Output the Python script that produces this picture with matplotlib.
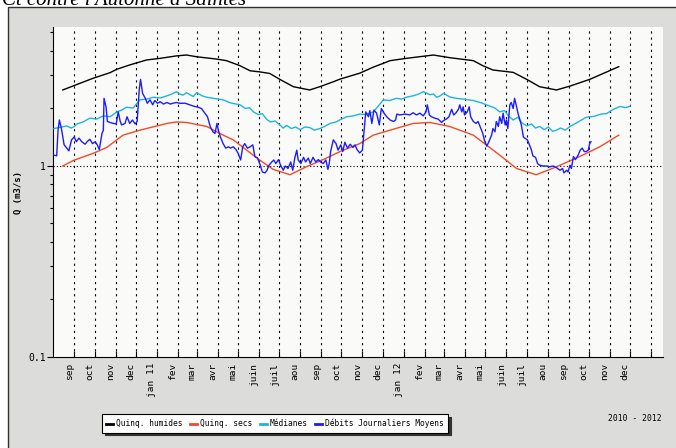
import numpy as np
import matplotlib
matplotlib.use('Agg')
import matplotlib.pyplot as plt
from matplotlib.lines import Line2D
from matplotlib.patches import Rectangle
from matplotlib.ticker import FixedLocator, FixedFormatter, NullFormatter
import matplotlib.transforms as mtransforms

plt.rcParams['font.family'] = ['DejaVu Sans Mono']

# ---------------- data ----------------
START = np.datetime64('2010-08-01')
END = np.datetime64('2013-01-18')

month_labels = ['sep', 'oct', 'nov', 'dec', 'jan 11', 'fev', 'mar', 'avr', 'mai', 'juin', 'juil', 'aou',
                'sep', 'oct', 'nov', 'dec', 'jan 12', 'fev', 'mar', 'avr', 'mai', 'juin', 'juil', 'aou',
                'sep', 'oct', 'nov', 'dec', '']
month_starts = np.arange(np.datetime64('2010-09'), np.datetime64('2013-02'),
                         np.timedelta64(1, 'M')).astype('datetime64[D]')

# days since 2010-08-01
humides_days = [14, 30, 59, 84, 94, 113, 138, 158, 182, 197, 212, 241, 256, 276, 291, 305, 320, 335, 355, 379,
                394, 414, 424, 453, 473, 498, 522, 562, 586, 621, 635, 650, 680, 700, 719, 744, 764, 793, 836]
humides_q = [2.50, 2.63, 2.88, 3.08, 3.21, 3.38, 3.59, 3.66, 3.77, 3.81, 3.73, 3.63, 3.56, 3.35, 3.15, 3.11, 3.05,
             2.84, 2.60, 2.50, 2.60, 2.76, 2.85, 3.06, 3.29, 3.56, 3.66, 3.81, 3.69, 3.56, 3.35, 3.18, 3.09, 2.84,
             2.60, 2.50, 2.62, 2.84, 3.31]

secs_days = [14, 30, 59, 79, 103, 128, 168, 182, 197, 227, 246, 266, 286, 305, 325, 350, 374, 399, 424, 453,
             473, 498, 532, 557, 586, 621, 640, 660, 685, 714, 744, 778, 808, 836]
secs_q = [1.00, 1.07, 1.165, 1.25, 1.45, 1.54, 1.67, 1.70, 1.69, 1.61, 1.48, 1.37, 1.21, 1.075, 0.96, 0.90, 0.99,
          1.08, 1.19, 1.31, 1.45, 1.54, 1.67, 1.69, 1.61, 1.45, 1.29, 1.14, 0.97, 0.90, 0.99, 1.12, 1.26, 1.45]

med_days = [1, 12, 20, 26, 30, 35, 44, 54, 64, 74,
            84, 94, 101, 108, 118, 128, 138, 148, 158, 168,
            175, 182, 187, 192, 197, 202, 207, 212, 220, 227,
            240, 251, 262, 276, 284, 290, 296, 303, 309, 315,
            321, 328, 335, 340, 345, 352, 358, 365, 372, 379,
            386, 394, 401, 409, 418, 426, 434, 444, 453, 463,
            473, 480, 488, 497, 507, 515, 522, 532, 540, 547,
            557, 562, 567, 572, 577, 586, 596, 606, 621, 633,
            645, 652, 660, 667, 673, 680, 687, 693, 700, 707,
            713, 719, 726, 732, 738, 744, 750, 757, 764, 776,
            788, 800, 810, 818, 828, 838, 846, 853]
med_q = [1.57, 1.60, 1.62, 1.58, 1.60, 1.66, 1.70, 1.78, 1.76, 1.83,
         1.81, 1.92, 1.96, 2.03, 2.01, 2.22, 2.24, 2.29, 2.27, 2.33,
         2.38, 2.45, 2.38, 2.35, 2.42, 2.36, 2.31, 2.42, 2.33, 2.29,
         2.25, 2.22, 2.14, 2.09, 2.00, 2.02, 1.92, 1.86, 1.88, 1.76,
         1.70, 1.72, 1.64, 1.58, 1.63, 1.57, 1.60, 1.55, 1.60, 1.59,
         1.54, 1.57, 1.61, 1.67, 1.70, 1.76, 1.81, 1.83, 1.87, 1.86,
         1.92, 2.05, 2.22, 2.20, 2.26, 2.24, 2.29, 2.33, 2.38, 2.45,
         2.36, 2.38, 2.29, 2.33, 2.40, 2.30, 2.26, 2.24, 2.20, 2.14,
         2.06, 2.02, 1.92, 1.95, 1.83, 1.74, 1.80, 1.68, 1.62, 1.66,
         1.58, 1.61, 1.55, 1.60, 1.52, 1.54, 1.58, 1.54, 1.61, 1.70,
         1.80, 1.82, 1.87, 1.88, 1.98, 2.05, 2.02, 2.06]

debit_days = [1, 5, 7, 9, 12, 16, 20, 23, 27, 31,
              34, 38, 42, 47, 50, 54, 58, 62, 65, 68,
              72, 74, 75, 78, 80, 84, 89, 93, 96, 99,
              101, 106, 109, 113, 117, 121, 124, 127, 129, 132,
              136, 139, 143, 147, 150, 154, 158, 163, 168, 173,
              177, 182, 187, 195, 202, 207, 214, 219, 224, 228,
              232, 236, 239, 242, 244, 247, 251, 255, 259, 262,
              266, 270, 273, 277, 280, 283, 287, 291, 295, 298,
              302, 306, 309, 313, 316, 319, 323, 326, 329, 333,
              336, 340, 343, 347, 351, 354, 357, 360, 362, 366,
              370, 373, 377, 380, 384, 388, 392, 395, 399, 403,
              406, 408, 410, 414, 418, 421, 425, 428, 431, 435,
              439, 443, 446, 449, 453, 457, 460, 462, 466, 468,
              471, 474, 478, 482, 485, 489, 493, 498, 503, 506,
              508, 512, 520, 527, 532, 537, 542, 547, 551, 553,
              556, 559, 564, 569, 574, 577, 581, 585, 589, 592,
              595, 599, 601, 604, 606, 608, 612, 615, 617, 621,
              625, 628, 631, 635, 638, 641, 644, 648, 650, 653,
              655, 658, 660, 663, 665, 668, 670, 672, 675, 677,
              680, 682, 685, 687, 690, 692, 695, 697, 701, 704,
              707, 709, 713, 716, 719, 724, 729, 734, 739, 744,
              749, 753, 755, 759, 761, 764, 766, 769, 772, 776,
              779, 782, 785, 788, 791, 793, 795]
debit_q = [1.14, 1.13, 1.54, 1.74, 1.57, 1.29, 1.24, 1.20, 1.37, 1.42,
           1.34, 1.40, 1.34, 1.30, 1.34, 1.38, 1.31, 1.34, 1.29, 1.22,
           1.48, 1.54, 2.26, 2.04, 1.71, 1.69, 1.67, 1.66, 1.92, 1.71,
           1.64, 1.67, 1.81, 1.67, 1.74, 1.66, 1.71, 2.50, 2.84, 2.40,
           2.26, 2.13, 2.22, 2.09, 2.20, 2.13, 2.17, 2.11, 2.15, 2.11,
           2.13, 2.15, 2.13, 2.13, 2.09, 2.06, 2.03, 2.00, 1.89, 1.81,
           1.61, 1.51, 1.48, 1.67, 1.54, 1.42, 1.31, 1.24, 1.26, 1.24,
           1.26, 1.22, 1.17, 1.075, 1.26, 1.31, 1.24, 1.26, 1.29, 1.12,
           1.10, 1.01, 0.93, 0.92, 0.95, 1.01, 1.05, 1.075, 1.03, 1.08,
           1.01, 0.95, 1.00, 0.97, 1.05, 0.95, 1.10, 1.21, 1.075, 1.03,
           1.11, 1.05, 1.10, 1.03, 1.11, 1.05, 1.08, 1.05, 1.03, 1.075,
           0.96, 1.03, 1.19, 1.37, 1.31, 1.21, 1.29, 1.19, 1.33, 1.24,
           1.30, 1.25, 1.29, 1.22, 1.17, 1.21, 1.61, 1.92, 1.81, 1.95,
           1.67, 1.96, 1.89, 1.64, 2.00, 1.89, 1.81, 1.74, 1.71, 1.74,
           1.87, 1.85, 1.87, 1.85, 1.90, 1.85, 1.89, 1.83, 1.92, 2.09,
           1.85, 1.81, 1.78, 1.76, 1.69, 1.73, 1.76, 1.81, 1.98, 1.85,
           1.89, 1.98, 2.09, 1.92, 2.04, 1.85, 1.92, 2.04, 1.81, 1.71,
           1.67, 1.71, 1.61, 1.48, 1.34, 1.27, 1.34, 1.45, 1.57, 1.51,
           1.71, 1.61, 1.81, 1.67, 1.89, 1.64, 1.74, 1.57, 2.09, 2.15,
           2.00, 2.26, 2.04, 1.89, 1.74, 1.64, 1.42, 1.40, 1.37, 1.29,
           1.21, 1.13, 1.11, 1.03, 1.01, 1.00, 1.00, 0.99, 1.00, 0.98,
           0.95, 0.97, 0.92, 0.95, 0.93, 1.01, 0.97, 1.12, 1.08, 1.14,
           1.21, 1.24, 1.19, 1.19, 1.21, 1.31, 1.34]

y_major = [0.1, 1]
y_major_labels = ['0.1', '1']
y_minor = [0.2, 0.3, 0.4, 0.5, 0.6, 0.7, 0.8, 0.9, 2, 3, 4, 5]

series_names = ['Quinq. humides', 'Quinq. secs', 'Médianes', 'Débits Journaliers Moyens']
series_colors = ['#000000', '#f04a28', '#1eb4e0', '#1c1cff']

def to_dates(days):
    return START + np.array(days).astype('timedelta64[D]')

# ---------------- figure ----------------
W, H = 676, 448
fig = plt.figure(figsize=(W / 100, H / 100), dpi=100)
fig.patch.set_facecolor('white')

# gray panel
fig.add_artist(Rectangle((7.5 / W, -0.01), 1.0, 1 - 7.5 / H + 0.01, transform=fig.transFigure,
                         facecolor='#dcdcda', edgecolor='#303030', lw=1.0, zorder=0))

fig.text(2 / W, 1 - 5 / H, "Ct contre l'Autonne à Saintes", family='Liberation Serif',
         style='italic', fontsize=15, va='baseline', ha='left')

ax = fig.add_axes([53.3 / W, 1 - 357 / H, (662.7 - 53.3) / W, (357 - 26.7) / H])
ax.set_facecolor('#fafbf8')
ax.set_yscale('log')
ax.set_ylim(0.1, 5.36)
ax.set_xlim(START, END)

for sp in ['top', 'right']:
    ax.spines[sp].set_visible(False)
for sp in ['left', 'bottom']:
    ax.spines[sp].set_color('black')
    ax.spines[sp].set_linewidth(0.8)

ax.set_xticks(month_starts)
ax.set_xticklabels(month_labels)
ax.xaxis.grid(True, color='black', lw=0.8, ls=(0, (2, 3.5)))
ax.tick_params(axis='x', direction='in', length=4, width=0.8, pad=4, labelsize=6.8, rotation=90)
offset = mtransforms.ScaledTranslation(-5 / 100, 0, fig.dpi_scale_trans)
for lbl in ax.get_xticklabels():
    lbl.set_transform(lbl.get_transform() + offset)

ax.yaxis.set_major_locator(FixedLocator(y_major))
ax.yaxis.set_major_formatter(FixedFormatter(y_major_labels))
ax.yaxis.set_minor_locator(FixedLocator(y_minor))
ax.yaxis.set_minor_formatter(NullFormatter())
ax.tick_params(axis='y', which='major', direction='out', length=4, width=0.8, pad=1.5, labelsize=7)
ax.tick_params(axis='y', which='minor', direction='out', length=2.2, width=0.8)

ax.axhline(1, color='black', lw=0.8, ls=(0, (1, 2)), zorder=1)

ax.plot(to_dates(humides_days), humides_q, color=series_colors[0], lw=1.0, zorder=3)
ax.plot(to_dates(secs_days), secs_q, color=series_colors[1], lw=1.0, zorder=3)
ax.plot(to_dates(med_days), med_q, color=series_colors[2], lw=1.0, zorder=3)
ax.plot(to_dates(debit_days), debit_q, color=series_colors[3], lw=1.0, zorder=4)

fig.text(18 / W, 1 - 193 / H, 'Q (m3/s)', rotation=90, fontweight='bold', fontsize=6.5,
         ha='center', va='center')

handles = [Line2D([], [], color=c, lw=2) for c in series_colors]
leg = fig.legend(handles, series_names, loc='center', bbox_to_anchor=(275 / W, 1 - 423.5 / H),
                 ncol=4, frameon=True, fancybox=False, edgecolor='black', framealpha=1,
                 handlelength=0.9, handletextpad=0.4, columnspacing=0.9, borderpad=0.55,
                 fontsize=5.65, shadow={'color': '#333333', 'alpha': 1})
leg.get_frame().set_linewidth(0.8)

fig.text(662 / W, 1 - 418 / H, '2010 - 2012', ha='right', va='center', fontsize=5.8)

fig.savefig('out.png', dpi=100)
